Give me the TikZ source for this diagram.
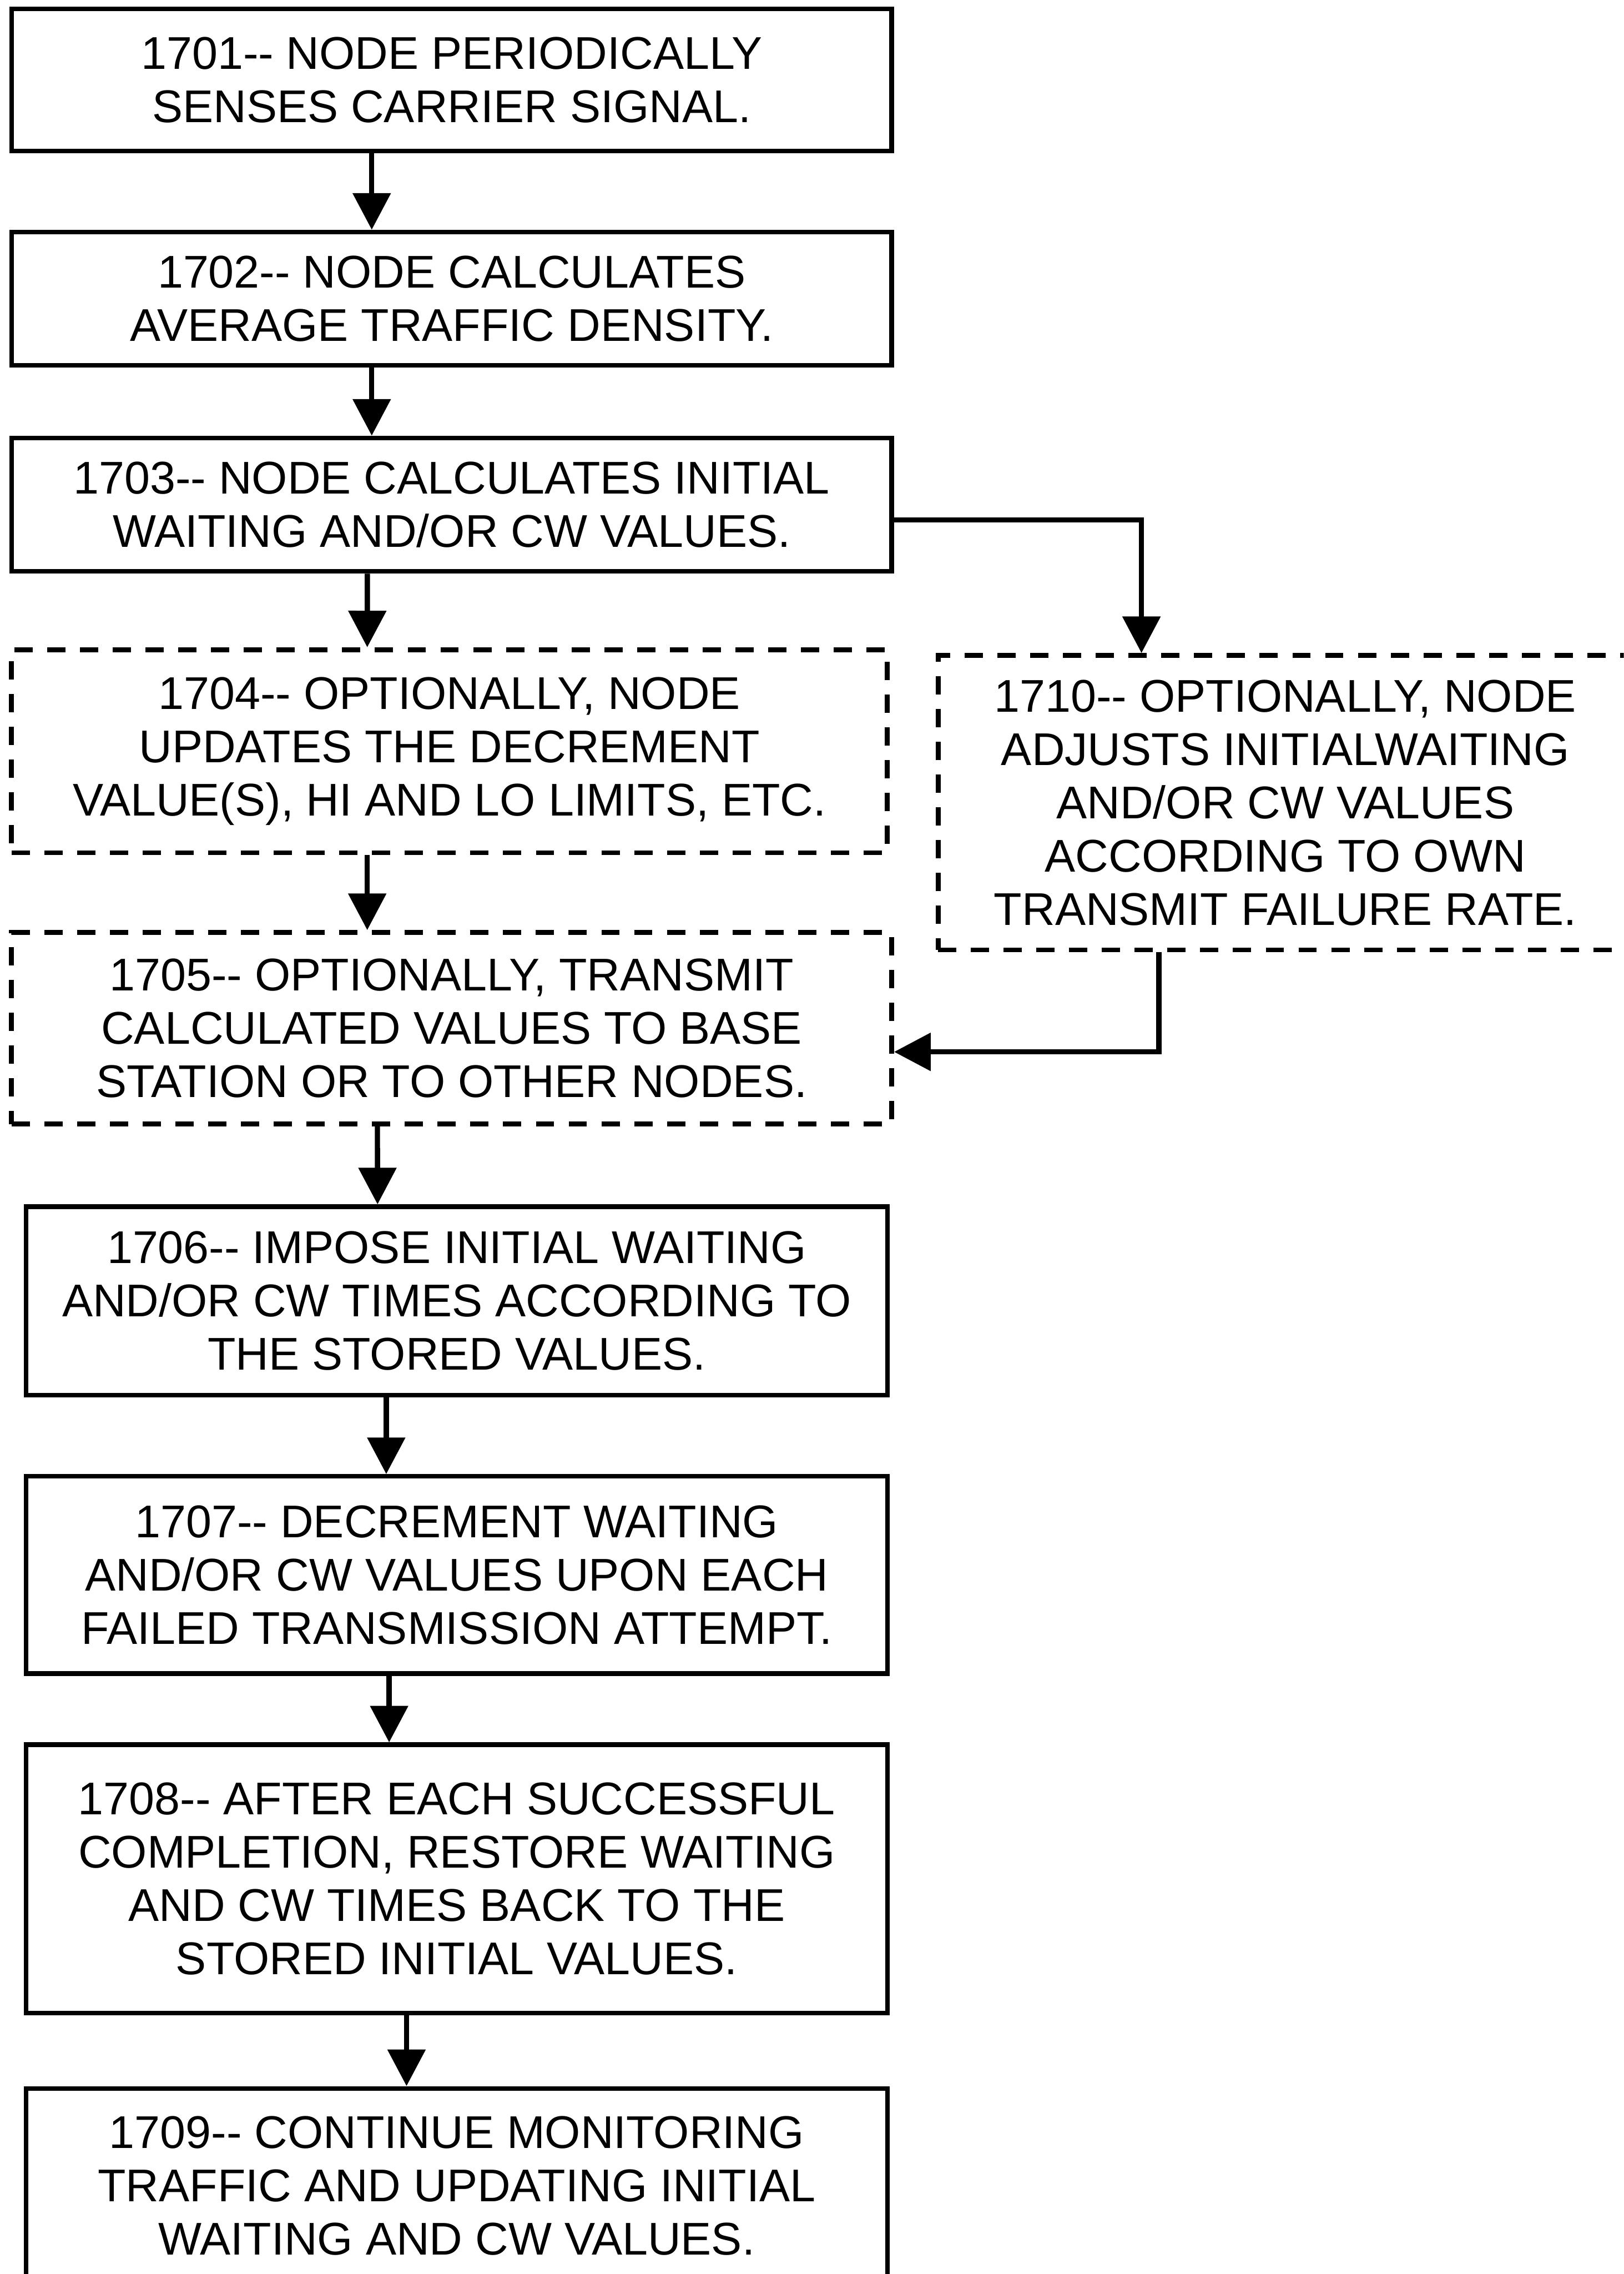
\documentclass[tikz,border=0pt]{standalone}
\usepackage{fontspec}
\setmainfont{Liberation Sans}
\usetikzlibrary{arrows.meta,calc}
\newcommand{\twodash}{-\kern0pt-}
\begin{document}
\begin{tikzpicture}[x=0.25mm,y=-0.25mm,
  box/.style={draw=black,line width=0.8mm,rectangle,inner sep=0pt,align=center,
    font=\fontsize{22.5pt}{26.1pt}\selectfont},
  optbox/.style={box,line width=0.85mm,dash pattern=on 3.15mm off 2.5mm},
  arr/.style={line width=0.9mm,-{Triangle[length=6.3mm,width=6.4mm]}}]
\clip (0,0) rectangle (1120,1568);
\fill[white] (0,0) rectangle (1120,1568);

% process steps
\node[box,minimum width=607*0.25mm,minimum height=98*0.25mm] (s1) at (311.5,55)
  {1701\twodash{} NODE PERIODICALLY\\SENSES CARRIER SIGNAL.};
\node[box,minimum width=607*0.25mm,minimum height=92*0.25mm] (s2) at (311.5,206)
  {1702\twodash{} NODE CALCULATES\\AVERAGE TRAFFIC DENSITY.};
\node[box,minimum width=607*0.25mm,minimum height=92*0.25mm] (s3) at (311.5,348)
  {1703\twodash{} NODE CALCULATES INITIAL\\WAITING AND/OR CW VALUES.};
\node[optbox,minimum width=604*0.25mm,minimum height=140*0.25mm] (s4) at (310,518)
  {1704\twodash{} OPTIONALLY, NODE\\UPDATES THE DECREMENT\\VALUE(S), HI AND LO LIMITS, ETC.};
\node[optbox,minimum width=479*0.25mm,minimum height=203*0.25mm] (s10) at (886.5,553.5)
  {1710\twodash{} OPTIONALLY, NODE\\ADJUSTS INITIALWAITING\\AND/OR CW VALUES\\ACCORDING TO OWN\\TRANSMIT FAILURE RATE.};
\node[optbox,minimum width=607*0.25mm,minimum height=132*0.25mm] (s5) at (311.5,709)
  {1705\twodash{} OPTIONALLY, TRANSMIT\\CALCULATED VALUES TO BASE\\STATION OR TO OTHER NODES.};
\node[box,minimum width=594*0.25mm,minimum height=130*0.25mm] (s6) at (315,897)
  {1706\twodash{} IMPOSE INITIAL WAITING\\AND/OR CW TIMES ACCORDING TO\\THE STORED VALUES.};
\node[box,minimum width=594*0.25mm,minimum height=136*0.25mm] (s7) at (315,1086)
  {1707\twodash{} DECREMENT WAITING\\AND/OR CW VALUES UPON EACH\\FAILED TRANSMISSION ATTEMPT.};
\node[box,minimum width=594*0.25mm,minimum height=185*0.25mm] (s8) at (315,1295.5)
  {1708\twodash{} AFTER EACH SUCCESSFUL\\COMPLETION, RESTORE WAITING\\AND CW TIMES BACK TO THE\\STORED INITIAL VALUES.};
\node[box,minimum width=594*0.25mm,minimum height=134*0.25mm] (s9) at (315,1507)
  {1709\twodash{} CONTINUE MONITORING\\TRAFFIC AND UPDATING INITIAL\\WAITING AND CW VALUES.};

% main flow
\draw[arr] ($(s1.south west)+(250,0)$) -- ($(s2.north west)+(250,0)$);
\draw[arr] ($(s2.south west)+(250,0)$) -- ($(s3.north west)+(250,0)$);
\draw[arr] ($(s3.south west)+(247,0)$) -- ($(s4.north west)+(247,0)$);
\draw[arr] ($(s4.south west)+(247,0)$) -- ($(s5.north west)+(247,0)$);
\draw[arr] ($(s5.south west)+(254,0)$) -- ($(s6.north west)+(244,0)$);
\draw[arr] ($(s6.south west)+(250,0)$) -- ($(s7.north west)+(250,0)$);
\draw[arr] ($(s7.south west)+(252,0)$) -- ($(s8.north west)+(252,0)$);
\draw[arr] ($(s8.south west)+(264,0)$) -- ($(s9.north west)+(264,0)$);

% side branch through 1710
\draw[arr] ($(s3.north east)+(0,58)$) -| ($(s10.north west)+(142,0)$);
\draw[arr] ($(s10.south west)+(154,0)$) |- ($(s5.north east)+(0,84)$);
\end{tikzpicture}
\end{document}
